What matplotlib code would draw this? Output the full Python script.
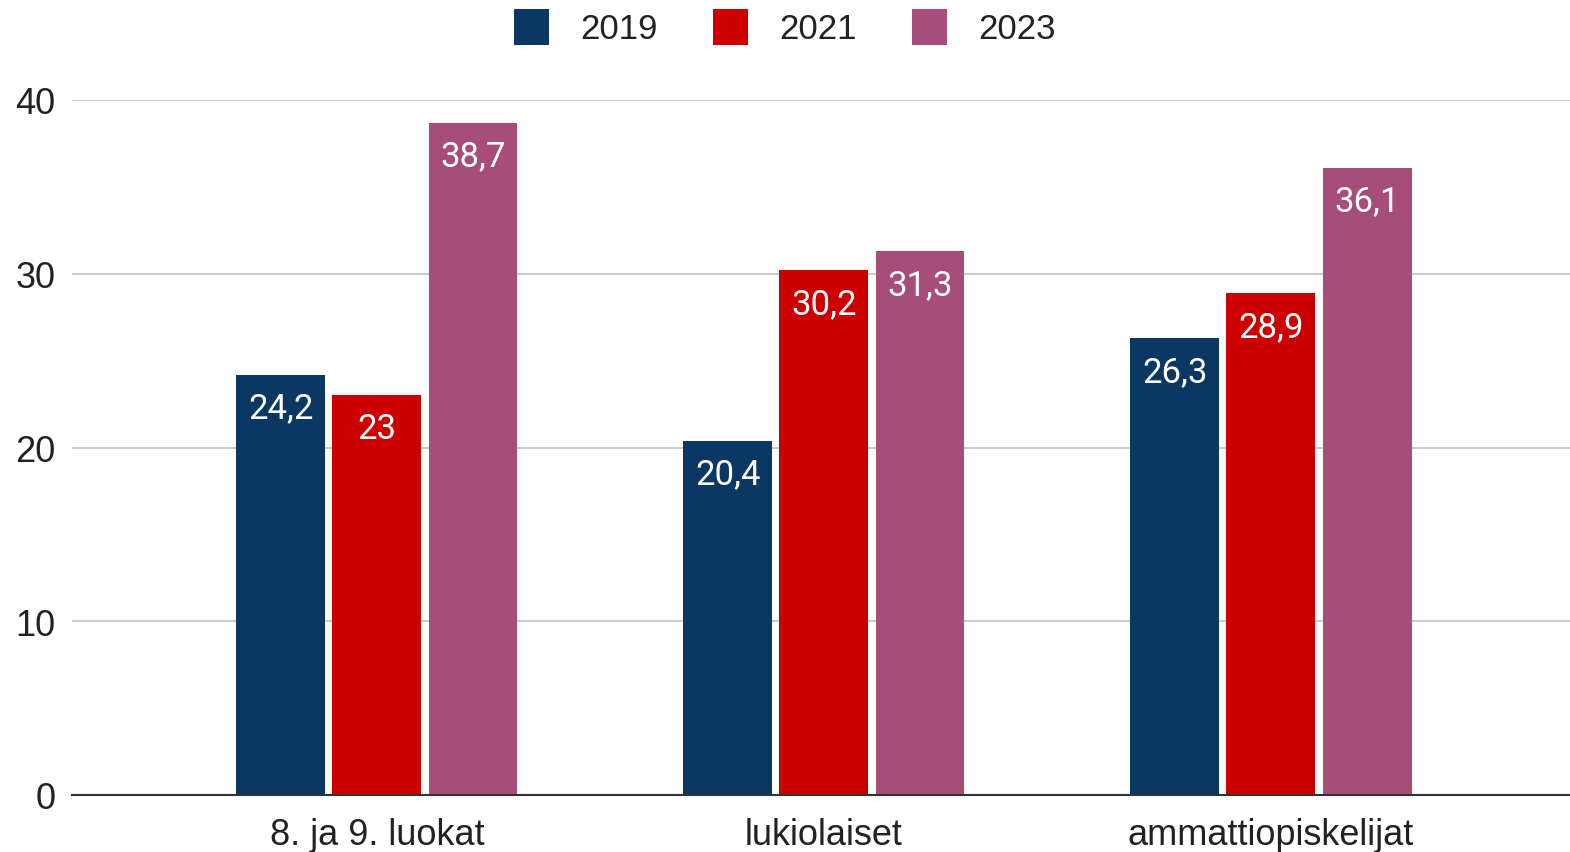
import matplotlib.pyplot as plt
import numpy as np

plt.rcParams['font.family'] = ['Liberation Sans', 'DejaVu Sans']

categories = ['8. ja 9. luokat', 'lukiolaiset', 'ammattiopiskelijat']
years = ['2019', '2021', '2023']
values_2019 = [24.2, 20.4, 26.3]
values_2021 = [23, 30.2, 28.9]
values_2023 = [38.7, 31.3, 36.1]
colors = ['#0b3763', '#cc0000', '#a64d79']


def fmt(v):
    s = ('%g' % v).replace('.', ',')
    return s


fig = plt.figure(figsize=(15.7, 8.53), dpi=100)
ax = fig.add_axes([72 / 1570, 57 / 853, 1 - 72 / 1570, 695 / 853])

x = np.arange(len(categories))
width = 0.199
step = 0.215
series = [values_2019, values_2021, values_2023]
for i, (vals, year, col) in enumerate(zip(series, years, colors)):
    pos = x + (i - 1) * step
    bars = ax.bar(pos, vals, width, color=col, label=year, zorder=3)
    for b, v in zip(bars, vals):
        ax.annotate(fmt(v), (b.get_x() + b.get_width() / 2, v), xytext=(0, -24),
                    textcoords='offset points', ha='center', va='center',
                    color='white', fontsize=25, family=['Roboto', 'DejaVu Sans'],
                    zorder=4)

ax.set_ylim(0, 40)
ax.set_xlim(-0.682, 2.669)
ax.set_yticks([0, 10, 20, 30, 40])
ax.set_xticks(x)
ax.set_xticklabels(categories)
ax.tick_params(axis='both', length=0, labelsize=26, colors='#222222')
ax.tick_params(axis='y', pad=12)
ax.tick_params(axis='x', pad=16)
ax.yaxis.grid(True, color='#cccccc', linewidth=1.5, zorder=0)
for s in ['top', 'right', 'left']:
    ax.spines[s].set_visible(False)
ax.spines['bottom'].set_color('#333333')
ax.spines['bottom'].set_linewidth(1.5)
ax.spines['bottom'].set_zorder(5)

fig.legend(loc='upper center', bbox_to_anchor=(0.5, 1.025), ncol=3, frameon=False,
           fontsize=25, handlelength=1.0, handleheight=1.2, columnspacing=1.6,
           handletextpad=0.9, labelcolor='#222222')

fig.savefig('out.png', dpi=100)
